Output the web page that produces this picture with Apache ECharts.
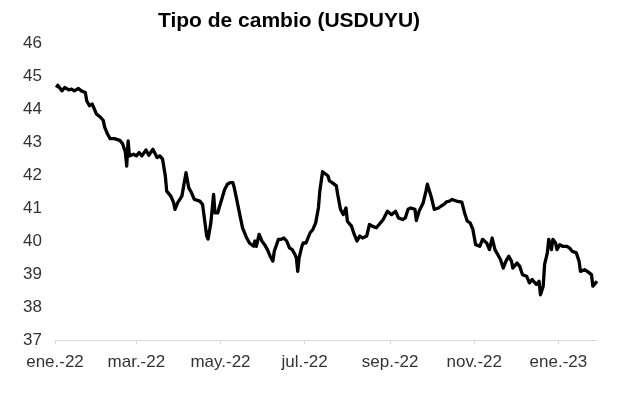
<!DOCTYPE html>
<html>
<head>
<meta charset="utf-8">
<script src="https://cdn.jsdelivr.net/npm/echarts@6/dist/echarts.min.js"></script>
<style>html,body{margin:0;padding:0;background:#fff}#c{width:617px;height:398px}</style>
</head>
<body>
<div id="c"></div>
<script>
const dates = [
'2022-01-02','2022-01-03','2022-01-06','2022-01-08','2022-01-11','2022-01-13','2022-01-15','2022-01-18','2022-01-20','2022-01-23',
'2022-01-24','2022-01-26','2022-01-28','2022-01-29','2022-01-31','2022-02-03','2022-02-05','2022-02-06','2022-02-08','2022-02-10',
'2022-02-13','2022-02-17','2022-02-19','2022-02-21','2022-02-22','2022-02-23','2022-02-24','2022-02-27','2022-03-01','2022-03-03',
'2022-03-05','2022-03-08','2022-03-10','2022-03-13','2022-03-16','2022-03-18','2022-03-20','2022-03-22','2022-03-23','2022-03-26',
'2022-03-28','2022-03-29','2022-03-31','2022-04-03','2022-04-06','2022-04-08','2022-04-10','2022-04-12','2022-04-16','2022-04-18',
'2022-04-21','2022-04-22','2022-04-24','2022-04-26','2022-04-27','2022-04-29','2022-04-30','2022-05-04','2022-05-06','2022-05-08',
'2022-05-10','2022-05-11','2022-05-13','2022-05-15','2022-05-17','2022-05-20','2022-05-22','2022-05-25','2022-05-26','2022-05-27',
'2022-05-29','2022-05-31','2022-06-02','2022-06-04','2022-06-06','2022-06-08','2022-06-09','2022-06-12','2022-06-14','2022-06-16',
'2022-06-18','2022-06-20','2022-06-22','2022-06-24','2022-06-25','2022-06-26','2022-06-27','2022-06-29','2022-06-30','2022-07-02',
'2022-07-05','2022-07-07','2022-07-09','2022-07-11','2022-07-12','2022-07-14','2022-07-15','2022-07-18','2022-07-19','2022-07-21',
'2022-07-24','2022-07-25','2022-07-27','2022-07-29','2022-07-31','2022-08-01','2022-08-04','2022-08-06','2022-08-08','2022-08-10',
'2022-08-12','2022-08-15','2022-08-17','2022-08-19','2022-08-22','2022-08-24','2022-08-27','2022-08-30','2022-09-02','2022-09-03',
'2022-09-05','2022-09-07','2022-09-10','2022-09-12','2022-09-14','2022-09-16','2022-09-19','2022-09-20','2022-09-22','2022-09-25',
'2022-09-27','2022-09-28','2022-10-01','2022-10-03','2022-10-06','2022-10-08','2022-10-10','2022-10-12','2022-10-14','2022-10-16',
'2022-10-19','2022-10-23','2022-10-25','2022-10-27','2022-10-29','2022-10-31','2022-11-02','2022-11-05','2022-11-07','2022-11-10',
'2022-11-12','2022-11-14','2022-11-16','2022-11-18','2022-11-20','2022-11-22','2022-11-24','2022-11-26','2022-11-28','2022-11-29',
'2022-12-02','2022-12-04','2022-12-06','2022-12-09','2022-12-11','2022-12-13','2022-12-16','2022-12-18','2022-12-19','2022-12-21',
'2022-12-22','2022-12-24','2022-12-25','2022-12-27','2022-12-28','2022-12-30','2022-12-31','2023-01-02','2023-01-04','2023-01-07',
'2023-01-09','2023-01-11','2023-01-14','2023-01-16','2023-01-17','2023-01-20','2023-01-22','2023-01-25','2023-01-26','2023-01-28',
'2023-01-29'
];
const usduyu = [
44.65,44.72,44.55,44.65,44.58,44.60,44.55,44.62,44.55,44.50,
44.25,44.10,44.15,44.05,43.85,43.75,43.65,43.45,43.25,43.10,
43.10,43.05,42.95,42.70,42.27,43.03,42.58,42.63,42.58,42.68,
42.58,42.76,42.60,42.78,42.53,42.58,42.48,41.97,41.51,41.36,
41.16,40.96,41.16,41.36,42.07,41.61,41.46,41.26,41.21,41.11,
40.15,40.06,40.55,41.41,40.85,40.85,41.00,41.56,41.72,41.77,
41.77,41.61,41.21,40.80,40.40,40.09,39.94,39.84,40.00,39.84,
40.20,40.00,39.89,39.74,39.54,39.39,39.69,40.05,40.05,40.09,
40.00,39.79,39.74,39.59,39.49,39.08,39.49,39.84,39.94,39.94,
40.25,40.35,40.55,41.00,41.51,42.10,42.07,41.97,41.82,41.77,
41.67,41.41,40.96,40.80,41.00,40.60,40.45,40.20,40.00,40.15,
40.09,40.15,40.50,40.45,40.40,40.50,40.65,40.90,40.80,40.85,
40.90,40.70,40.65,40.70,40.96,41.00,40.96,40.62,40.90,41.16,
41.51,41.72,41.31,40.96,41.00,41.06,41.11,41.19,41.21,41.26,
41.21,41.18,40.85,40.60,40.55,40.35,39.89,39.84,40.05,39.94,
39.74,40.09,39.74,39.59,39.44,39.18,39.39,39.54,39.39,39.18,
39.33,39.23,38.98,38.93,38.73,38.83,38.68,38.78,38.37,38.63,
39.29,39.64,40.05,39.74,40.05,39.94,39.74,39.89,39.84,39.84,
39.79,39.69,39.64,39.39,39.08,39.13,39.08,38.98,38.63,38.73,
38.78
];
const tickDates = ['2022-01-01','2022-03-01','2022-05-01','2022-07-01','2022-09-01','2022-11-01','2023-01-01'];
const monthNames = ['ene','feb','mar','abr','may','jun','jul','ago','sep','oct','nov','dic'];
const yTicks = [37,38,39,40,41,42,43,44,45,46];

function ts(s){ const p=s.split('-').map(Number); return new Date(p[0],p[1]-1,p[2]).getTime(); }
const tickTs = tickDates.map(ts);
const font = 'Liberation Sans, Arial, sans-serif';

const chart = echarts.init(document.getElementById('c'), null, {renderer:'canvas'});
chart.setOption({
  animation:false,
  title:{
    text:'Tipo de cambio (USDUYU)', left:284, top:6, textAlign:'center',
    textStyle:{fontFamily:font, fontSize:21, fontWeight:'bold', color:'#000'}
  },
  grid:{left:55, right:20, top:43, bottom:58, containLabel:false},
  xAxis:{
    type:'value',
    min: ts('2022-01-01'),
    max: ts('2023-01-29'),
    axisLine:{show:true, lineStyle:{color:'#d9d9d9', width:1}},
    axisTick:{show:true, customValues:tickTs, length:4, lineStyle:{color:'#d9d9d9'}},
    axisLabel:{
      customValues:tickTs, margin:14, color:'#333', fontFamily:font, fontSize:17,
      formatter:function(v){ const d=new Date(v); return monthNames[d.getMonth()]+'.-'+String(d.getFullYear()).slice(2); },
      hideOverlap:false
    },
    splitLine:{show:false}
  },
  yAxis:{
    type:'value', min:yTicks[0], max:yTicks[yTicks.length-1], interval:1,
    axisLine:{show:false}, axisTick:{show:false}, splitLine:{show:false},
    axisLabel:{color:'#333', fontFamily:font, fontSize:17, margin:13}
  },
  series:[{
    type:'line',
    data: dates.map((d,i)=>[ts(d), usduyu[i]]),
    showSymbol:false, symbol:'none',
    lineStyle:{color:'#000', width:3.3, join:'round'},
    smooth:false
  }]
});
</script>
</body>
</html>
